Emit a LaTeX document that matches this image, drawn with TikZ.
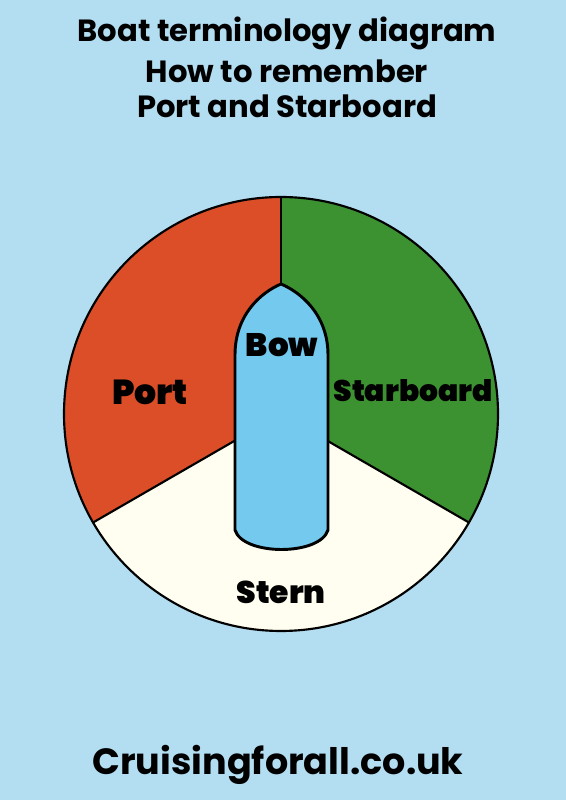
\documentclass[tikz,border=0pt]{standalone}
\usepackage{fontspec}
\setmainfont{Poppins}
\newfontfamily\titlefont{Poppins Bold}
\newfontfamily\labelfont{Poppins Black}
\definecolor{bgblue}{HTML}{B3DEF1}
\definecolor{portred}{HTML}{DC4E28}
\definecolor{stbdgreen}{HTML}{3C9230}
\definecolor{sterncream}{HTML}{FFFEF0}
\definecolor{boatblue}{HTML}{74C9EE}
\tikzset{
  sector/.style={draw=black,line width=1.6pt,line join=round},
  hull/.style={draw=black,fill=boatblue,line width=2.2pt,line join=round},
  titletext/.style={font=\titlefont\fontsize{23}{26}\selectfont,text=black,inner sep=0pt},
  sectlabel/.style={font=\labelfont\fontsize{23.5}{26}\selectfont,text=black,inner sep=0pt},
  foottext/.style={font=\titlefont\fontsize{27.4}{30}\selectfont,text=black,inner sep=0pt}
}
\begin{document}
\begin{tikzpicture}[x=0.75pt,y=0.75pt]
\fill[bgblue] (0,0) rectangle (566,800);
\useasboundingbox (0,0) rectangle (566,800);
\coordinate (c) at (281,386);
% sectors
\fill[portred] (c) -- ++(90:217) arc[start angle=90,end angle=210,radius=217] -- cycle;
\fill[sterncream] (c) -- ++(210:217) arc[start angle=210,end angle=330,radius=217] -- cycle;
\fill[stbdgreen] (c) -- ++(330:217) arc[start angle=330,end angle=450,radius=217] -- cycle;
\draw[sector] (c) circle[radius=217];
\draw[sector] (c) -- ++(90:217);
\draw[sector] (c) -- ++(210:217);
\draw[sector] (c) -- ++(330:217);
% boat hull
\draw[hull] (235,270) -- (235,445)
  .. controls (235,486) and (262,508) .. (281,516)
  .. controls (300,508) and (328,486) .. (328,445)
  -- (328,270)
  .. controls (320,244) and (243,244) .. (235,270) -- cycle;
% labels
\node[titletext] (t1) at (287,767) {Boat terminology diagram};
\node[titletext] (t2) at (287,729) {How to remember};
\node[titletext] (t3) at (287,694) {Port and Starboard};
\node[sectlabel,font=\labelfont\fontsize{24.4}{27}\selectfont] (bow) at (282,455) {Bow};
\node[sectlabel,font=\labelfont\fontsize{26}{29}\selectfont] (port) at (150,408) {Port};
\node[sectlabel,font=\labelfont\fontsize{22.3}{25}\selectfont] (stbd) at (413,409) {Starboard};
\node[sectlabel] (stern) at (281,208) {Stern};
\node[foottext] (foot) at (278,35) {Cruisingforall.co.uk};
\end{tikzpicture}
\end{document}
